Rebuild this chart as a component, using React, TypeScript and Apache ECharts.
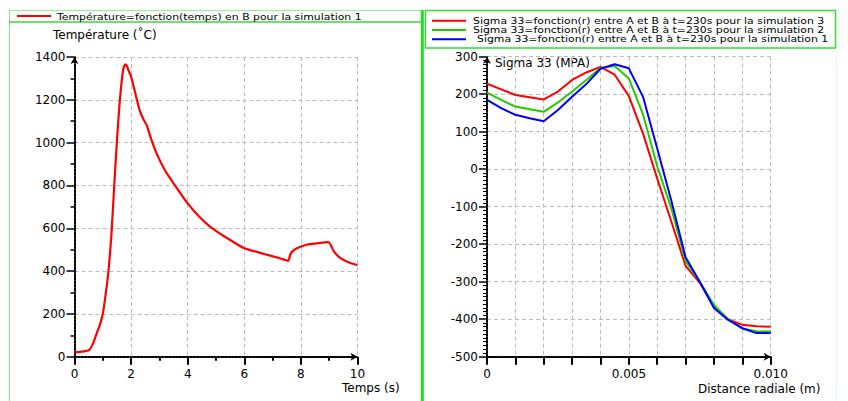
import React, { useEffect, useRef } from 'react';
import * as echarts from 'echarts';

const FONT = 'DejaVu Sans';

// Left chart: temperature vs time
const time = [0, 0.5, 0.65, 0.8, 0.9, 1.0, 1.1, 1.2, 1.3, 1.4, 1.5, 1.6, 1.7, 1.75, 1.8, 1.85, 1.9, 2.0, 2.15, 2.3, 2.45, 2.55, 2.7, 2.9, 3.2, 3.5, 4.0, 4.4, 4.8, 5.5, 6.0, 6.7, 7.2, 7.55, 7.62, 7.69, 7.86, 8.2, 8.6, 8.97, 9.05, 9.17, 9.4, 9.7, 10];
const temperature = [20, 30, 60, 115, 150, 200, 290, 400, 560, 790, 1010, 1195, 1325, 1355, 1366, 1358, 1340, 1308, 1230, 1152, 1105, 1082, 1020, 950, 870, 810, 716, 655, 607, 545, 507, 480, 462, 448, 476, 491, 507, 523, 530, 535, 523, 491, 460, 440, 428];

// Right chart: Sigma 33 vs radial distance
const radial = [0, 0.0005, 0.001, 0.0015, 0.002, 0.0025, 0.003, 0.0035, 0.004, 0.0045, 0.005, 0.0055, 0.006, 0.0065, 0.007, 0.0075, 0.008, 0.0085, 0.009, 0.0095, 0.01];
const sigmaSim3 = [228, 213, 198, 192, 186, 207, 238, 258, 273, 252, 195, 95, -25, -140, -258, -303, -367, -400, -415, -419, -420];
const sigmaSim2 = [204, 185, 167, 160, 153, 178, 207, 238, 270, 275, 242, 146, 8, -105, -245, -300, -362, -400, -425, -432, -433];
const sigmaSim1 = [185, 163, 145, 136, 128, 158, 193, 227, 268, 280, 269, 193, 55, -85, -235, -300, -370, -402, -424, -437, -437];

const leftName = 'Température=fonction(temps) en B pour la simulation 1';
const name3 = 'Sigma 33=fonction(r) entre A et B à t=230s pour la simulation 3';
const name2 = 'Sigma 33=fonction(r) entre A et B à t=230s pour la simulation 2';
const name1 = 'Sigma 33=fonction(r) entre A et B à t=230s pour la simulation 1';

const RED = '#ff0000';
const GREEN = '#22cc00';
const BLUE = '#0000ff';

const axisLine = {
  show: true,
  onZero: false,
  symbol: ['none', 'arrow'],
  symbolSize: [6, 7],
  lineStyle: { color: '#000', width: 2, type: [2, 1.5] },
};
const splitLine = { show: true, lineStyle: { color: '#bbbbbb', type: [4, 3], width: 1 } };
const label = { color: '#000', fontFamily: FONT, fontSize: 12 };

const LEG_SCALE = 1.21;
const legendText = (text: string, x: number, y: number) => ({
  type: 'text', x, y, scaleX: LEG_SCALE,
  style: { text, fill: '#000', fontFamily: FONT, fontSize: 9, align: 'left', verticalAlign: 'middle' },
  z: 10,
});
const legendLine = (color: string, x: number, y: number) => ({
  type: 'line', shape: { x1: x, y1: y, x2: x + 34, y2: y },
  style: { stroke: color, lineWidth: 2 }, z: 10,
});

export default function App() {
  const ref = useRef<HTMLDivElement>(null);
  useEffect(() => {
    const chart = echarts.init(ref.current!, null, { renderer: 'svg' });
    const option: any = {
      animation: false,
      backgroundColor: '#ffffff',
      grid: [
        { left: 74.5, top: 57, width: 283, height: 299.7 },
        { left: 487, top: 56.7, width: 283.7, height: 300 },
      ],
      xAxis: [
        {
          type: 'value', gridIndex: 0, min: 0, max: 10, interval: 2,
          axisLine,
          axisTick: { show: true, length: 8, lineStyle: { color: '#000', width: 2 } },
          minorTick: { show: true, splitNumber: 2, length: 4, lineStyle: { color: '#000', width: 2 } },
          axisLabel: { ...label, margin: 11, formatter: (v: number) => String(v) },
          splitLine,
        },
        {
          type: 'value', gridIndex: 1, min: 0, max: 0.01, interval: 0.001,
          axisLine,
          axisTick: { show: true, length: 8, lineStyle: { color: '#000', width: 2 } },
          axisLabel: {
            ...label, margin: 11, showMaxLabel: true,
            formatter: (v: number) => {
              if (Math.abs(v) < 1e-9) return '0';
              if (Math.abs(v - 0.005) < 1e-9) return '0.005';
              if (Math.abs(v - 0.01) < 1e-9) return '0.010';
              return '';
            },
          },
          splitLine,
        },
      ],
      yAxis: [
        {
          type: 'value', gridIndex: 0, min: 0, max: 1400, interval: 200,
          axisLine,
          axisTick: { show: true, length: 8, lineStyle: { color: '#000', width: 1.5 } },
          minorTick: { show: true, splitNumber: 2, length: 4, lineStyle: { color: '#000', width: 1.5 } },
          axisLabel: { ...label, margin: 9, formatter: (v: number) => String(v) },
          splitLine,
        },
        {
          type: 'value', gridIndex: 1, min: -500, max: 300, interval: 100,
          axisLine,
          axisTick: { show: true, length: 8, lineStyle: { color: '#000', width: 1.5 } },
          minorTick: { show: true, splitNumber: 10, length: 4, lineStyle: { color: '#000', width: 1 } },
          axisLabel: { ...label, margin: 9, formatter: (v: number) => String(v) },
          splitLine,
        },
      ],
      graphic: [
        // frames
        { type: 'line', shape: { x1: 9.5, y1: 10, x2: 9.5, y2: 401 }, style: { stroke: '#88e888', lineWidth: 1 }, z: 0 },
        { type: 'line', shape: { x1: 9, y1: 10.5, x2: 421, y2: 10.5 }, style: { stroke: '#99ee99', lineWidth: 1 }, z: 0 },
        { type: 'line', shape: { x1: 9, y1: 22, x2: 421, y2: 22 }, style: { stroke: '#33dd33', lineWidth: 1.5 }, z: 0 },
        { type: 'line', shape: { x1: 422.3, y1: 10, x2: 422.3, y2: 401 }, style: { stroke: '#22dd22', lineWidth: 3 }, z: 0 },
        { type: 'rect', shape: { x: 425.5, y: 10.5, width: 410, height: 37.5 }, style: { stroke: '#33dd33', lineWidth: 1.5, fill: 'none' }, z: 0 },
        { type: 'line', shape: { x1: 836.5, y1: 48, x2: 836.5, y2: 401 }, style: { stroke: '#e4f6f6', lineWidth: 1 }, z: 0 },
        // legends
        legendLine(RED, 17, 16),
        legendText(leftName, 57, 16.5),
        legendLine(RED, 432, 20.7),
        legendText(name3, 473, 20.7),
        legendLine(GREEN, 432, 30),
        legendText(name2, 473, 30),
        legendLine(BLUE, 432, 39.3),
        legendText(name1, 477, 39.3),
        // axis titles
        { type: 'text', x: 53, y: 35, style: { text: 'Température (˚C)', fill: '#000', fontFamily: FONT, fontSize: 12, align: 'left', verticalAlign: 'middle' } },
        { type: 'text', x: 342, y: 388, style: { text: 'Temps (s)', fill: '#000', fontFamily: FONT, fontSize: 12, align: 'left', verticalAlign: 'middle' } },
        { type: 'text', x: 495, y: 62.5, style: { text: 'Sigma 33 (MPA)', fill: '#000', fontFamily: FONT, fontSize: 12, align: 'left', verticalAlign: 'middle' } },
        { type: 'text', x: 698, y: 388.5, style: { text: 'Distance radiale (m)', fill: '#000', fontFamily: FONT, fontSize: 12, align: 'left', verticalAlign: 'middle' } },
      ],
      series: [
        {
          type: 'line', name: leftName, xAxisIndex: 0, yAxisIndex: 0,
          data: time.map((t, i) => [t, temperature[i]]),
          symbol: 'none', showSymbol: false, smooth: 0.2,
          lineStyle: { color: RED, width: 2.2 }, itemStyle: { color: RED },
        },
        {
          type: 'line', name: name3, xAxisIndex: 1, yAxisIndex: 1,
          data: radial.map((r, i) => [r, sigmaSim3[i]]),
          symbol: 'none', showSymbol: false,
          lineStyle: { color: RED, width: 2 }, itemStyle: { color: RED },
        },
        {
          type: 'line', name: name2, xAxisIndex: 1, yAxisIndex: 1,
          data: radial.map((r, i) => [r, sigmaSim2[i]]),
          symbol: 'none', showSymbol: false,
          lineStyle: { color: GREEN, width: 2 }, itemStyle: { color: GREEN },
        },
        {
          type: 'line', name: name1, xAxisIndex: 1, yAxisIndex: 1,
          data: radial.map((r, i) => [r, sigmaSim1[i]]),
          symbol: 'none', showSymbol: false,
          lineStyle: { color: BLUE, width: 2 }, itemStyle: { color: BLUE },
        },
      ],
    };
    chart.setOption(option);
    return () => chart.dispose();
  }, []);
  return (
    <div
      ref={ref}
      style={{ position: 'absolute', left: 0, top: 0, width: 848, height: 401, background: '#fff' }}
    />
  );
}
